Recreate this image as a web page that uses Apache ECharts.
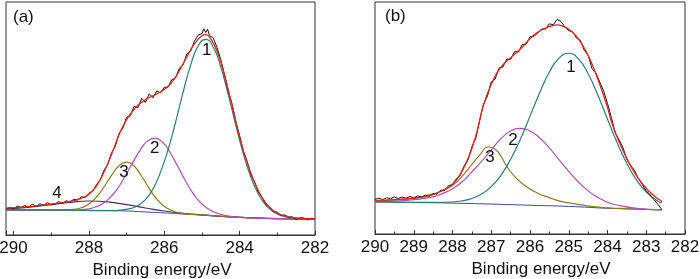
<!DOCTYPE html>
<html>
<head>
<meta charset="utf-8">
<script src="https://cdn.jsdelivr.net/npm/echarts@6/dist/echarts.min.js"></script>
<style>
  html, body { margin: 0; padding: 0; background: #fff; }
  #chart { width: 700px; height: 279px; }
</style>
</head>
<body>
<div id="chart"></div>
<script>
// (a) C1s fit, [binding energy eV, intensity a.u.]
const aBackground = [[290.2,10.8],[289,10.7],[288,10.6],[287,10.3],[286.5,9.9],[286,9.5],[285.5,9.0],[285,8.6],[284.5,8.0],[284,7.6],[283.5,7.3],[283,7.0],[282,6.8]];
const aPeak1 = [[290.2,10.8],[288.5,10.65],[287.7,10.4],[287.3,10.5],[286.9,11.3],[286.7,12.6],[286.5,15.2],[286.3,19.7],[286.1,27.0],[285.9,36.6],[285.7,48.4],[285.5,61.3],[285.3,72.9],[285.1,81.2],[284.9,84.0],[284.7,80.7],[284.5,72.1],[284.3,60.1],[284.1,47.0],[283.9,34.7],[283.7,24.8],[283.5,17.5],[283.3,12.7],[283.1,9.9],[282.9,8.3],[282.5,7.1],[282.0,6.8]];
const aPeak2 = [[290.2,10.8],[288.5,10.6],[288.05,11.1],[287.85,11.9],[287.65,13.3],[287.45,15.9],[287.25,19.7],[287.05,24.9],[286.85,30.7],[286.65,36.2],[286.45,40.3],[286.25,41.6],[286.05,39.9],[285.85,35.5],[285.65,29.7],[285.45,23.6],[285.25,18.2],[285.05,14.1],[284.85,11.4],[284.65,9.7],[284.45,8.6],[284.05,7.7],[283,7.0],[282,6.8]];
const aPeak3 = [[290.2,10.8],[288.8,10.7],[288.4,11.0],[288.2,11.7],[288.0,13.3],[287.8,16.3],[287.6,20.6],[287.4,25.6],[287.2,29.7],[287.0,31.3],[286.8,29.6],[286.6,25.2],[286.4,20.0],[286.2,15.4],[286.0,12.3],[285.8,10.5],[285.6,9.5],[285.4,9.0],[285,8.6],[284,7.6],[283,7.0],[282,6.8]];
const aPeak4 = [[290.2,11.2],[289.5,12.1],[289,13.0],[288.5,14.0],[288,14.6],[287.5,14.2],[287,13.0],[286.5,11.6],[286,10.3],[285.5,9.3],[285,8.6],[284.5,8.0],[284,7.6],[283,7.0],[282,6.8]];
const aFit = [[290.2,11.5],[289.5,12.3],[289,13.3],[288.5,14.4],[288.2,15.8],[288,17.5],[287.8,21],[287.6,27],[287.4,34.5],[287.2,43],[287,49.5],[286.8,54],[286.6,57],[286.4,59],[286.2,60.5],[286,62.5],[285.8,65.5],[285.6,70.5],[285.4,76.5],[285.2,82],[285,85.5],[284.9,86],[284.8,85],[284.6,79],[284.4,68.5],[284.2,55.5],[284,42],[283.8,31],[283.6,22.5],[283.4,16],[283.2,11.8],[283,9.3],[282.8,8.2],[282.5,7.3],[282,6.9]];
const aRaw = [[290.2,11.2],[290.1,11.9],[290,11.3],[289.9,12.4],[289.8,11.8],[289.7,12.6],[289.6,12.0],[289.5,13.2],[289.4,12.3],[289.3,13.4],[289.2,12.8],[289.1,13.9],[289,12.9],[288.9,13.2],[288.8,14.3],[288.7,13.6],[288.6,14.7],[288.5,14.2],[288.4,15.3],[288.3,15.0],[288.2,16.4],[288.1,16.1],[288,17.9],[287.9,18.8],[287.8,21.6],[287.7,23.7],[287.6,27.8],[287.5,30.2],[287.4,35.3],[287.3,38.0],[287.2,43.6],[287.1,45.8],[287,50.6],[286.9,51.2],[286.8,55.3],[286.7,54.6],[286.6,58.7],[286.5,56.9],[286.4,60.6],[286.3,58.9],[286.2,61.8],[286.1,61.0],[286,63.4],[285.9,63.5],[285.8,66.6],[285.7,67.4],[285.6,71.6],[285.5,73.0],[285.4,77.8],[285.3,78.9],[285.2,83.2],[285.1,85.8],[285,86.4],[284.95,88.5],[284.9,86.9],[284.85,88.3],[284.8,85.7],[284.7,84.5],[284.6,80.5],[284.5,75.2],[284.4,68.8],[284.3,61.6],[284.2,56.2],[284.1,48.5],[284,42.6],[283.9,36.0],[283.8,31.5],[283.7,26.0],[283.6,22.7],[283.5,18.2],[283.4,16.1],[283.3,13.0],[283.2,12.0],[283.1,10.1],[283,9.8],[282.9,8.4],[282.8,8.6],[282.7,7.6],[282.6,7.8],[282.5,6.6],[282.4,7.4],[282.3,7.3],[282.2,6.5],[282.1,7.2],[282,6.9]];

// (b)
const bBackground = [[290,13.8],[289,13.6],[288,13.3],[287,12.9],[286,12.4],[285,11.9],[284,11.1],[283,10.6],[282.6,10.4]];
const bPeak1 = [[290,13.8],[289,13.6],[288.5,13.6],[288,13.8],[287.75,14.3],[287.5,15.3],[287.25,17.2],[287,20.4],[286.75,25.3],[286.5,32.2],[286.25,40.8],[286,50.8],[285.75,60.9],[285.5,69.8],[285.25,75.8],[285,77.9],[284.75,75.5],[284.5,69.1],[284.25,59.9],[284,49.5],[283.75,39.3],[283.5,30.4],[283.25,23.2],[283,18.1],[282.75,14.7],[282.6,13.4]];
const bPeak2 = [[290,13.9],[289.5,14.2],[289,14.8],[288.5,16.0],[288.25,17.5],[288,19.5],[287.75,22.5],[287.5,26.8],[287.25,31.3],[287,36.2],[286.75,41.1],[286.5,44.4],[286.25,45.5],[286,44.4],[285.75,41.4],[285.5,37.1],[285.25,32.0],[285,27.0],[284.75,22.4],[284.5,18.6],[284.25,15.8],[284,13.7],[283.75,12.5],[283.25,11.1],[282.6,10.4]];
const bPeak3 = [[290,14.2],[289.5,14.6],[289,15.4],[288.5,17.3],[288.06,20.3],[287.8,24.0],[287.55,28.9],[287.3,34.0],[287.08,37.5],[286.9,36.5],[286.75,33.5],[286.59,28.9],[286.35,24.0],[286.08,20.3],[285.8,17.6],[285.5,15.7],[285.23,14.2],[284.8,12.9],[284.37,11.8],[284,11.3],[283.5,10.9],[283,10.6],[282.6,10.4]];
const bFit = [[290,14.4],[289.5,14.8],[289.1,15.3],[288.66,16.2],[288.25,18.8],[288,21.5],[287.81,25.5],[287.6,32.5],[287.47,38.5],[287.37,44],[287.21,55],[287,64.5],[286.77,71.5],[286.5,76],[286.26,79.5],[285.92,85.5],[285.6,88.8],[285.41,89.8],[285.3,90.1],[285.15,89.5],[285.02,88.5],[284.79,85],[284.53,78],[284.27,67.7],[284.01,55],[283.86,46.5],[283.6,36],[283.24,24.8],[282.9,18],[282.59,14]];
const bRaw = [[290,14.9],[289.9,15.4],[289.8,14.8],[289.7,15.6],[289.6,15.2],[289.5,16.0],[289.4,15.3],[289.3,15.9],[289.2,15.4],[289.1,16.2],[289,15.6],[288.9,16.4],[288.8,15.9],[288.7,16.8],[288.6,16.3],[288.5,17.4],[288.4,17.2],[288.3,18.9],[288.2,18.8],[288.1,20.9],[288,21.2],[287.9,23.9],[287.8,25.2],[287.7,29.4],[287.6,32.0],[287.5,37.6],[287.4,41.2],[287.3,48.9],[287.2,56.0],[287.1,59.3],[287,65.6],[286.9,66.8],[286.8,71.5],[286.7,72.0],[286.6,75.4],[286.5,75.3],[286.4,78.6],[286.3,78.4],[286.2,81.7],[286.1,81.8],[286,85.0],[285.9,85.2],[285.8,86.6],[285.7,88.4],[285.6,88.3],[285.5,90.6],[285.4,90.2],[285.3,92.5],[285.2,91.6],[285.1,89.3],[285,87.6],[284.9,87.2],[284.8,84.4],[284.7,83.5],[284.6,79.2],[284.5,77.1],[284.4,71.3],[284.3,69.4],[284.2,65.5],[284.1,61.6],[284,56.3],[283.9,50.2],[283.8,43.6],[283.7,40.5],[283.6,37.2],[283.5,32.0],[283.4,29.5],[283.3,27.3],[283.2,23.8],[283.1,21.2],[283,18.6],[282.9,16.9],[282.8,14.8],[282.7,12.8],[282.6,10.6]];

// peak number labels [E, intensity]
const aLabels = [['1',284.87,79.4],['2',286.25,37.3],['3',287.07,27],['4',288.85,18]];
const bLabels = [['1',284.94,72],['2',286.44,40.5],['3',287.03,33.2]];

const FONT = '"Liberation Sans", Arial, sans-serif';
const C = {
  raw: '#111', fit: '#e8231c', p1: '#2d7c78', p2: '#b24fb4',
  p3: '#8a7a22', p4: '#4b2d6a', bg: '#3b47a3'
};

function line(data, color, idx, w, smooth, labels) {
  const s = {
    type: 'line', data: data, xAxisIndex: idx, yAxisIndex: idx,
    showSymbol: false, smooth: smooth, z: 2,
    lineStyle: { color: color, width: w }
  };
  if (labels) {
    s.markPoint = {
      symbol: 'circle', symbolSize: 0, animation: false,
      label: { show: true, color: '#111', fontSize: 17, fontFamily: FONT, formatter: p => p.name },
      data: labels.map(l => ({ name: l[0], coord: [l[1], l[2]] }))
    };
  }
  return s;
}

function xAxis(idx, max, interval, padLeft) {
  return {
    type: 'value', gridIndex: idx, min: 282, max: max, interval: interval, inverse: true,
    name: 'Binding energy/eV', nameLocation: 'middle', nameGap: 23,
    nameTextStyle: { fontSize: 17, color: '#111', fontFamily: FONT, padding: [0, 0, 0, padLeft] },
    axisLine: { show: true, lineStyle: { color: '#333', width: 1 } },
    axisTick: { show: true, inside: true, length: 4, lineStyle: { color: '#333' } },
    minorTick: { show: true, splitNumber: 2, length: 2.5, lineStyle: { color: '#333' } },
    axisLabel: { fontSize: 17, color: '#111', fontFamily: FONT, margin: 5 },
    splitLine: { show: false }
  };
}

const option = {
  animation: false,
  backgroundColor: '#fff',
  title: [
    { text: '(a)', left: 8, top: 4, textStyle: { fontSize: 17, fontWeight: 'normal', color: '#111', fontFamily: FONT } },
    { text: '(b)', left: 380, top: 3, textStyle: { fontSize: 17, fontWeight: 'normal', color: '#111', fontFamily: FONT } }
  ],
  grid: [
    { left: 6, width: 309, top: 2, bottom: 44, show: true, borderColor: '#333', borderWidth: 1, containLabel: false, outerBoundsMode: 'none' },
    { left: 375, width: 310, top: 2, bottom: 45, show: true, borderColor: '#333', borderWidth: 1, containLabel: false, outerBoundsMode: 'none' }
  ],
  xAxis: [xAxis(0, 290.2, 2, 3), xAxis(1, 290, 1, 22)],
  yAxis: [
    { type: 'value', gridIndex: 0, min: 0, max: 100, show: false },
    { type: 'value', gridIndex: 1, min: 0, max: 100, show: false }
  ],
  series: [
    line(aBackground, C.bg, 0, 1, true),
    line(aPeak4, C.p4, 0, 1.2, true),
    line(aPeak3, C.p3, 0, 1.2, true),
    line(aPeak2, C.p2, 0, 1.2, true),
    line(aPeak1, C.p1, 0, 1.2, true),
    line(aRaw, C.raw, 0, 1, false),
    line(aFit, C.fit, 0, 1.3, true, aLabels),
    line(bBackground, C.bg, 1, 1, true),
    line(bPeak3, C.p3, 1, 1.2, true),
    line(bPeak2, C.p2, 1, 1.2, true),
    line(bPeak1, C.p1, 1, 1.2, true),
    line(bRaw, C.raw, 1, 1, false),
    line(bFit, C.fit, 1, 1.3, true, bLabels)
  ]
};

const myChart = echarts.init(document.getElementById('chart'));
myChart.setOption(option);
</script>
</body>
</html>
